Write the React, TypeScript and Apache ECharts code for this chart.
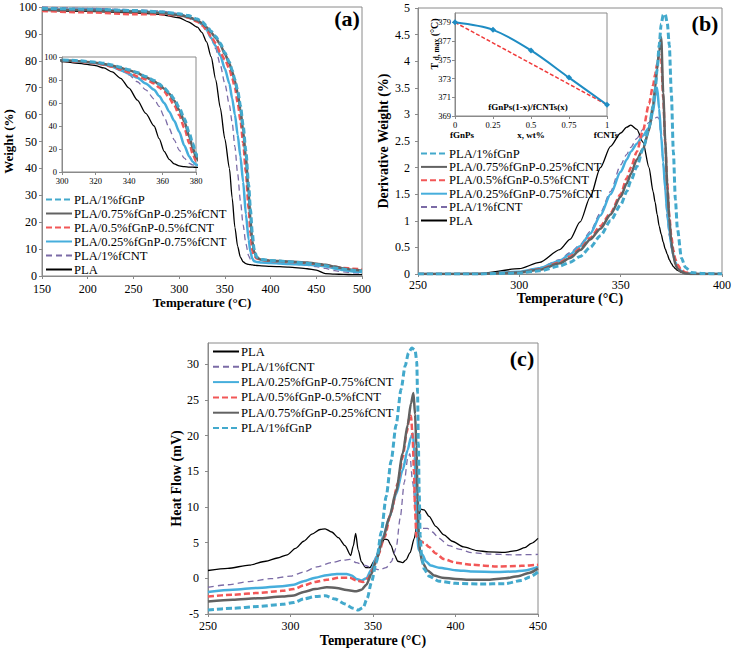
import React, { useEffect, useRef } from 'react';
import * as echarts from 'echarts';

const FONT = "'Liberation Serif', 'Times New Roman', serif";

const N_FGNP = 'PLA/1%fGnP';
const N_75 = 'PLA/0.75%fGnP-0.25%fCNT';
const N_50 = 'PLA/0.5%fGnP-0.5%fCNT';
const N_25 = 'PLA/0.25%fGnP-0.75%fCNT';
const N_CNT = 'PLA/1%fCNT';
const N_PLA = 'PLA';

// ---------- Panel (a): TGA weight ----------
const tempsA = [150, 200, 250, 280, 300, 310, 320, 325, 330, 335, 340, 345, 350, 355, 358, 361, 364, 367, 370, 373, 376, 378, 380, 382, 385, 390, 400, 420, 440, 450, 460, 470, 480, 490, 500];
const wPLA = [98.8, 98.4, 97.8, 97.2, 96, 94.5, 92.5, 90.5, 87, 81.5, 73, 62.5, 51, 40, 29, 18, 11, 7, 5.3, 4.6, 4.3, 4.2, 4.1, 4.0, 3.9, 3.8, 3.6, 3.3, 2.7, 2.2, 0.9, 0.7, 0.6, 0.5, 0.5];
const wFGNP = [99.5, 99.2, 98.7, 98.2, 97.5, 96.8, 95.5, 94.5, 93, 91, 89, 86.5, 83, 79.5, 76.5, 73, 69, 63.5, 56, 46.5, 34, 25, 16, 10, 7, 6.2, 5.8, 5.3, 4.7, 4.3, 3.8, 3.0, 2.5, 2.0, 1.8];
const w75 = [99, 98.8, 98.3, 97.8, 97, 96.3, 95, 94, 92.5, 90.5, 88.5, 86, 82.5, 79, 76, 72.5, 68, 62, 54, 44, 31, 21, 13, 9, 6.8, 6, 5.7, 5.4, 5, 4.6, 4.2, 3.5, 2.8, 2.3, 2.0];
const w50 = [98.5, 98, 97.3, 97.3, 96.8, 96, 94.5, 93.2, 91.5, 89, 86.5, 83, 80.5, 77, 73.5, 70, 64.5, 58, 49.5, 38.5, 25, 16, 9.5, 7.5, 6.5, 6, 5.6, 5.2, 4.8, 4.5, 4.0, 3.4, 3.0, 2.7, 2.5];
const w25 = [99.2, 99, 98.5, 98, 97.2, 96.3, 94.8, 93.5, 91.5, 88.5, 85.5, 82, 77, 71.5, 66, 60, 52.5, 44.5, 35, 23, 13.5, 9, 6.5, 5.5, 5.2, 5, 4.8, 4.5, 4.2, 4.0, 3.6, 2.8, 2.2, 1.7, 1.5];
const wCNT = [100, 99.5, 99, 98.5, 97.5, 96.5, 95, 93.5, 91.5, 88.5, 84.5, 78.5, 71.5, 63.5, 57, 48, 38, 28, 19, 12, 7.5, 6.2, 5.8, 5.5, 5.3, 5, 4.8, 4.5, 4.0, 3.5, 2.8, 2.0, 1.5, 1.2, 1.0];

// ---------- Panel (b): DTG ----------
const tempsB = [250, 280, 300, 310, 320, 325, 330, 335, 340, 345, 350, 353, 355, 358, 361, 364, 366, 367, 368, 369, 370, 371, 372, 373, 374, 375, 376, 377, 378, 380, 382, 385, 390, 400];
const dPLA = [0, 0.01, 0.1, 0.22, 0.46, 0.65, 0.98, 1.45, 2.0, 2.4, 2.65, 2.76, 2.8, 2.72, 2.48, 2.0, 1.55, 1.35, 1.12, 0.9, 0.75, 0.6, 0.47, 0.37, 0.27, 0.2, 0.14, 0.1, 0.07, 0.03, 0.01, 0, 0, 0];
const dFGNP = [0, 0, 0.02, 0.06, 0.15, 0.22, 0.33, 0.5, 0.72, 1.0, 1.3, 1.55, 1.75, 2.02, 2.35, 2.75, 3.15, 3.45, 3.85, 4.3, 4.7, 4.87, 4.88, 4.72, 4.3, 3.4, 2.3, 1.4, 0.85, 0.3, 0.12, 0.03, 0.01, 0];
const d75 = [0, 0, 0.03, 0.08, 0.2, 0.3, 0.45, 0.65, 0.85, 1.12, 1.45, 1.7, 1.88, 2.15, 2.35, 2.7, 3.18, 3.5, 3.85, 4.2, 4.45, 3.4, 2.5, 1.65, 1.05, 0.6, 0.35, 0.18, 0.1, 0.04, 0.01, 0, 0, 0];
const d50 = [0, 0, 0.03, 0.09, 0.22, 0.33, 0.48, 0.68, 0.9, 1.15, 1.5, 1.8, 2.0, 2.3, 2.7, 3.2, 3.55, 3.75, 3.95, 4.12, 4.05, 3.3, 2.45, 1.7, 1.1, 0.7, 0.45, 0.28, 0.18, 0.07, 0.03, 0.01, 0, 0];
const d25 = [0, 0, 0.04, 0.11, 0.25, 0.37, 0.52, 0.76, 1.1, 1.5, 1.92, 2.15, 2.3, 2.45, 2.6, 2.75, 3.05, 3.35, 3.5, 3.1, 2.6, 2.1, 1.6, 1.15, 0.8, 0.55, 0.35, 0.22, 0.14, 0.05, 0.02, 0, 0, 0];
const dCNT = [0, 0, 0.04, 0.12, 0.27, 0.4, 0.55, 0.8, 1.15, 1.55, 2.05, 2.25, 2.38, 2.55, 2.72, 2.85, 2.9, 2.93, 2.95, 2.92, 2.55, 2.05, 1.55, 1.05, 0.72, 0.48, 0.32, 0.21, 0.14, 0.06, 0.03, 0.01, 0, 0];

// inset (b): Td,max vs x
const insetX = [0, 0.25, 0.5, 0.75, 1];
const tdMax = [379, 378.2, 376, 373.1, 370.2];
const tdLinear = [379, 370.2];
const tdLinearX = [0, 1];

// ---------- Panel (c): DSC heat flow ----------
const hPLA: [number, number][] = [[250, 1.1], [262, 1.4], [275, 1.85], [285, 2.4], [292, 2.85], [298, 3.3], [303, 4.2], [308, 5.2], [313, 6.2], [318, 6.85], [321, 6.95], [325, 6.5], [329, 5.7], [333, 4.6], [336.5, 3.2], [338, 4.5], [339.5, 6.3], [341, 4.0], [343, 2.3], [345.5, 1.5], [348, 1.5], [351, 2.5], [354, 4.3], [357, 5.5], [359, 5.4], [361, 4.6], [363, 3.3], [365, 2.4], [368, 2.2], [370, 2.6], [372.5, 3.6], [375, 5.6], [377, 8.0], [379, 9.7], [381, 9.6], [384, 8.7], [388, 7.3], [393, 6.1], [398, 5.2], [405, 4.4], [413, 3.9], [420, 3.7], [430, 3.65], [437, 3.9], [442, 4.3], [446, 4.9], [450, 5.6]];
const hCNT: [number, number][] = [[250, -1.25], [262, -0.9], [275, -0.45], [288, -0.05], [300, 0.3], [308, 0.9], [316, 1.6], [325, 2.2], [332, 2.55], [336, 2.65], [340, 2.2], [345, 1.8], [350, 1.4], [354, 1.2], [358, 1.5], [361, 2.3], [364, 4.2], [366.5, 8.5], [369, 13.5], [371, 16.8], [372.3, 17.5], [374, 13.5], [376, 9.5], [378, 7.5], [380, 7.0], [383, 7.0], [386, 6.5], [390, 5.6], [396, 4.6], [402, 4.1], [410, 3.6], [420, 3.4], [435, 3.3], [450, 3.35]];
const h25: [number, number][] = [[250, -1.9], [265, -1.6], [280, -1.35], [295, -1.1], [302, -0.9], [308, -0.4], [315, 0.1], [322, 0.45], [328, 0.62], [334, 0.62], [337, 0.4], [340, -0.1], [343, -0.3], [346, 0.0], [349, 1.2], [352, 3.0], [356, 5.8], [360, 8.6], [364, 11.8], [368, 15.2], [371, 18], [373, 19.8], [374.2, 20.3], [375.3, 17], [376, 11], [376.8, 6], [377.6, 4.0], [380, 3.3], [382, 2.4], [385, 1.8], [390, 1.5], [400, 1.15], [410, 0.95], [425, 0.9], [435, 0.95], [442, 1.1], [450, 1.6]];
const h50: [number, number][] = [[250, -2.55], [265, -2.3], [280, -2.05], [295, -1.75], [302, -1.5], [308, -1.0], [315, -0.5], [322, -0.2], [330, 0.1], [336, 0.1], [340, -0.3], [344, -0.5], [347, 0.0], [350, 1.3], [353, 3.2], [357, 5.8], [361, 9.3], [365, 13.3], [368, 17], [370.5, 20.5], [372, 22.5], [373, 22.8], [374, 20], [374.8, 15], [375.5, 9.5], [376.3, 5.8], [378, 5.3], [381, 5.0], [384, 4.4], [388, 3.5], [393, 2.7], [400, 2.2], [410, 1.9], [425, 1.65], [440, 1.75], [450, 1.9]];
const h75: [number, number][] = [[250, -3.25], [265, -3.0], [280, -2.8], [295, -2.55], [302, -2.4], [308, -1.9], [315, -1.5], [322, -1.25], [328, -1.35], [334, -1.65], [340, -1.8], [343, -1.6], [346, -0.9], [349, 0.6], [352, 2.5], [356, 5.5], [360, 8.6], [364, 12.2], [368, 17.5], [371, 21.5], [373, 24.5], [374.5, 26], [375.5, 23], [376.3, 18.5], [377, 12], [377.8, 6], [378.6, 3.5], [380, 2.2], [383, 1.1], [387, 0.4], [392, 0.1], [400, -0.1], [410, -0.2], [420, -0.2], [430, 0.0], [438, 0.3], [445, 0.8], [450, 1.4]];
const hFGNP: [number, number][] = [[250, -4.45], [265, -4.2], [280, -3.95], [295, -3.65], [302, -3.4], [308, -2.9], [315, -2.55], [321, -2.45], [327, -2.9], [333, -3.6], [338, -4.2], [341, -4.45], [344, -4.1], [346.5, -2.8], [349, -0.6], [352, 2.2], [355, 6.5], [358, 11.5], [361, 16.5], [364, 21.5], [367, 26.5], [369.5, 29.8], [371.5, 31.6], [373.5, 32.3], [375.5, 32], [376.5, 30.5], [377, 26], [377.5, 19], [378, 12], [378.6, 6], [379.5, 3], [381, 1.3], [384, 0.3], [390, -0.4], [400, -0.7], [415, -0.8], [430, -0.75], [440, -0.3], [445, 0.2], [450, 0.9]];

const legendAB = [N_FGNP, N_75, N_50, N_25, N_CNT, N_PLA];
const legendC = [N_PLA, N_CNT, N_25, N_50, N_75, N_FGNP];

const STYLE: Record<string, any> = {
  [N_FGNP]: { color: '#43A9CC', width: 3, type: [6, 3] },
  [N_75]: { color: '#626262', width: 2.5, type: 'solid' },
  [N_50]: { color: '#F25757', width: 2.5, type: [6, 3] },
  [N_25]: { color: '#46AEDC', width: 2.5, type: 'solid' },
  [N_CNT]: { color: '#7B6BA6', width: 1.3, type: [6, 4] },
  [N_PLA]: { color: '#000000', width: 1.3, type: 'solid' },
};

const zip = (xs: number[], ys: number[]) => xs.map((x, i) => [x, ys[i]]);

function line(name: string, data: any[], idx: number, z = 2) {
  const s = STYLE[name];
  return {
    type: 'line', name, data, xAxisIndex: idx, yAxisIndex: idx,
    showSymbol: false, symbol: 'none', smooth: 0.25, smoothMonotone: 'x', clip: true, z,
    lineStyle: { color: s.color, width: s.width, type: s.type },
    itemStyle: { color: s.color },
  };
}

const AXC = '#8a8a8a';
function xAx(gi: number, min: number, max: number, interval: number, fs: number, extra: any = {}) {
  return {
    type: 'value', gridIndex: gi, min, max, interval,
    axisLine: { onZero: false, lineStyle: { color: AXC } },
    axisTick: { length: 3, lineStyle: { color: AXC } },
    splitLine: { show: false },
    axisLabel: { fontFamily: FONT, fontSize: fs, color: '#000', margin: 7 },
    ...extra,
  };
}
function yAx(gi: number, min: number, max: number, interval: number, fs: number, extra: any = {}) {
  return {
    type: 'value', gridIndex: gi, min, max, interval,
    axisLine: { show: true, onZero: false, lineStyle: { color: AXC } },
    axisTick: { show: true, length: 3, lineStyle: { color: AXC } },
    splitLine: { show: false },
    axisLabel: { fontFamily: FONT, fontSize: fs, color: '#000', margin: 5 },
    ...extra,
  };
}
const nameStyle = (fs: number) => ({ fontFamily: FONT, fontSize: fs, fontWeight: 'bold', color: '#000' });

function legend(left: number, top: number, gap: number, data: string[]) {
  return {
    orient: 'vertical', left, top, itemWidth: 26, itemHeight: 10, itemGap: gap, padding: 0,
    selectedMode: false, data,
    itemStyle: { opacity: 0, borderWidth: 0 },
    textStyle: { fontFamily: FONT, fontSize: 12.6, lineHeight: 13, color: '#000', padding: [0, 0, 0, -3] },
  };
}

export default function App() {
  const ref = useRef<HTMLDivElement>(null);
  useEffect(() => {
    if (!ref.current) return;
    const chart = echarts.init(ref.current, undefined, { renderer: 'svg' });
    const series: any[] = [];
    const order = [N_PLA, N_CNT, N_25, N_50, N_75, N_FGNP];
    const aMap: Record<string, number[]> = { [N_PLA]: wPLA, [N_CNT]: wCNT, [N_25]: w25, [N_50]: w50, [N_75]: w75, [N_FGNP]: wFGNP };
    const bMap: Record<string, number[]> = { [N_PLA]: dPLA, [N_CNT]: dCNT, [N_25]: d25, [N_50]: d50, [N_75]: d75, [N_FGNP]: dFGNP };
    const cMap: Record<string, [number, number][]> = { [N_PLA]: hPLA, [N_CNT]: hCNT, [N_25]: h25, [N_50]: h50, [N_75]: h75, [N_FGNP]: hFGNP };
    order.forEach((n) => series.push(line(n, zip(tempsA, aMap[n]), 0)));
    order.forEach((n) => series.push(line(n, zip(tempsA, aMap[n]), 1, 5)));
    order.forEach((n) => series.push(line(n, zip(tempsB, bMap[n]), 2)));
    order.forEach((n) => series.push(line(n, cMap[n], 4)));
    series.push({
      type: 'line', name: 'linear', data: zip(tdLinearX, tdLinear), xAxisIndex: 3, yAxisIndex: 3,
      symbol: 'none', lineStyle: { color: '#F03A3A', width: 1.5, type: [4, 2] }, z: 5,
    });
    series.push({
      type: 'line', name: 'Td,max', data: zip(insetX, tdMax), xAxisIndex: 3, yAxisIndex: 3,
      symbol: 'diamond', symbolSize: 6, smooth: 0.3,
      lineStyle: { color: '#1E8CC3', width: 2 }, itemStyle: { color: '#1E8CC3' }, z: 6,
    });

    chart.setOption({
      animation: false,
      backgroundColor: '#ffffff',
      textStyle: { fontFamily: FONT },
      grid: [
        { left: 42, top: 7, width: 320, height: 269, show: true, borderColor: AXC, borderWidth: 1, backgroundColor: '#fff' },
        { left: 62, top: 57, width: 134, height: 115, show: true, borderColor: AXC, borderWidth: 1, backgroundColor: '#fff', z: 4 },
        { left: 418, top: 8, width: 304, height: 266, show: true, borderColor: AXC, borderWidth: 1, backgroundColor: '#fff' },
        { left: 455, top: 13, width: 152, height: 103, show: true, borderColor: AXC, borderWidth: 1, backgroundColor: '#fff', z: 4 },
        { left: 208, top: 343, width: 330, height: 271, show: true, borderColor: AXC, borderWidth: 1, backgroundColor: '#fff' },
      ],
      xAxis: [
        xAx(0, 150, 500, 50, 12, { name: 'Temperature (°C)', nameLocation: 'middle', nameGap: 20, nameTextStyle: nameStyle(13) }),
        xAx(1, 300, 380, 20, 8.5, { z: 5, axisLabel: { fontFamily: FONT, fontSize: 8.5, color: '#000', margin: 4 } }),
        xAx(2, 250, 400, 50, 12, { name: 'Temperature (°C)', nameLocation: 'middle', nameGap: 12, nameTextStyle: nameStyle(14), axisLabel: { fontFamily: FONT, fontSize: 12, color: '#000', margin: 5 } }),
        xAx(3, 0, 1, 0.25, 8.5, { z: 5, axisLabel: { fontFamily: FONT, fontSize: 8.5, color: '#000', margin: 4 } }),
        xAx(4, 250, 450, 50, 12, { name: 'Temperature (°C)', nameLocation: 'middle', nameGap: 19, nameTextStyle: nameStyle(14), axisLabel: { fontFamily: FONT, fontSize: 12, color: '#000', margin: 6 } }),
      ],
      yAxis: [
        yAx(0, 0, 100, 10, 12, { name: 'Weight (%)', nameLocation: 'middle', nameGap: 25, nameTextStyle: nameStyle(13) }),
        yAx(1, 0, 100, 20, 8.5, { z: 5 }),
        yAx(2, 0, 5, 0.5, 12, { name: 'Derivative Weight (%)', nameLocation: 'middle', nameGap: 28, nameTextStyle: nameStyle(14), axisLabel: { fontFamily: FONT, fontSize: 12, color: '#000', margin: 8 } }),
        yAx(3, 369, 380, 2, 8.5, { z: 5, axisLabel: { fontFamily: FONT, fontSize: 8.5, color: '#000', margin: 4, showMaxLabel: false } }),
        yAx(4, -5, 33, 5, 12, { name: 'Heat Flow (mV)', nameLocation: 'middle', nameGap: 25, nameTextStyle: nameStyle(14), axisLabel: { fontFamily: FONT, fontSize: 12, color: '#000', margin: 9, showMaxLabel: false } }),
      ],
      legend: [
        legend(45, 193, 1, legendAB),
        legend(420, 147, 0.4, legendAB),
        legend(212, 345, 2.3, legendC),
      ],
      graphic: [
        { type: 'text', x: 347, y: 18, z: 50, style: { text: '(a)', font: `bold 22px ${FONT}`, fill: '#000', align: 'center', verticalAlign: 'middle' } },
        { type: 'text', x: 705, y: 23, z: 50, style: { text: '(b)', font: `bold 22px ${FONT}`, fill: '#000', align: 'center', verticalAlign: 'middle' } },
        { type: 'text', x: 522, y: 358, z: 50, style: { text: '(c)', font: `bold 22px ${FONT}`, fill: '#000', align: 'center', verticalAlign: 'middle' } },
        { type: 'text', x: 462, y: 135, z: 50, style: { text: 'fGnPs', font: `bold 9px ${FONT}`, fill: '#000', align: 'center', verticalAlign: 'middle' } },
        { type: 'text', x: 531, y: 135, z: 50, style: { text: 'x, wt%', font: `bold 9px ${FONT}`, fill: '#000', align: 'center', verticalAlign: 'middle' } },
        { type: 'text', x: 606, y: 135, z: 50, style: { text: 'fCNTs', font: `bold 9px ${FONT}`, fill: '#000', align: 'center', verticalAlign: 'middle' } },
        { type: 'text', x: 528, y: 107, z: 50, style: { text: 'fGnPs(1-x)/fCNTs(x)', font: `bold 9px ${FONT}`, fill: '#000', align: 'center', verticalAlign: 'middle' } },
        {
          type: 'text', x: 434, y: 44, rotation: Math.PI / 2, z: 50,
          style: {
            text: '{a|T }{b|d, max}{a| (°C)}', align: 'center', verticalAlign: 'middle',
            rich: {
              a: { fontFamily: FONT, fontSize: 10, fontWeight: 'bold', fill: '#000', color: '#000' },
              b: { fontFamily: FONT, fontSize: 7.5, fontWeight: 'bold', fill: '#000', color: '#000', verticalAlign: 'bottom', padding: [4, 0, 0, 0] },
            },
          },
        },
      ],
      series,
    });
    return () => chart.dispose();
  }, []);
  return <div ref={ref} style={{ position: 'fixed', left: 0, top: 0, width: 734, height: 649, background: '#fff' }} />;
}
